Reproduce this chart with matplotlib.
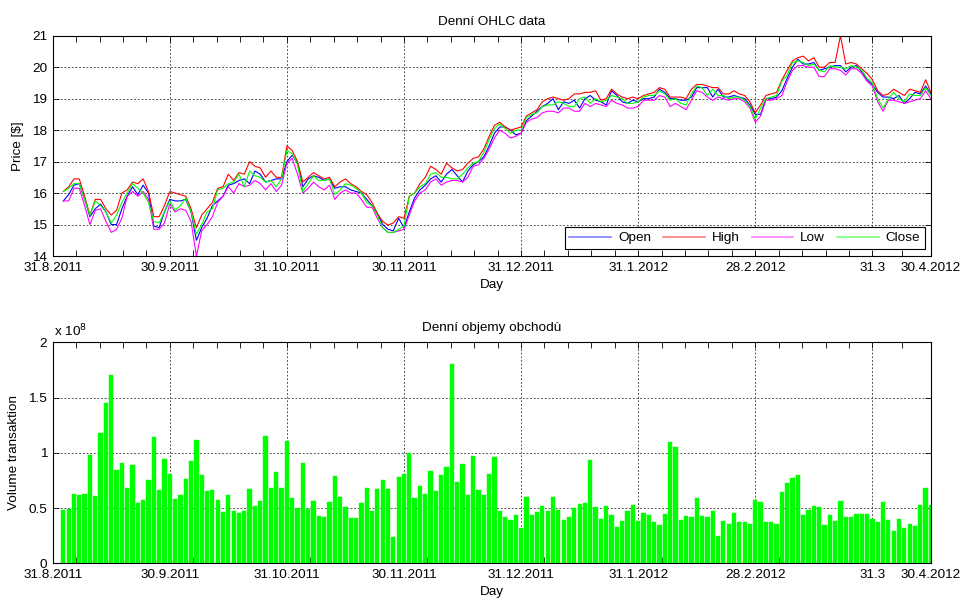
import numpy as np
import matplotlib
matplotlib.use("Agg")
import matplotlib.pyplot as plt

plt.rcParams['font.family'] = ['Liberation Sans', 'DejaVu Sans']

# trading day index of each sample (first row of the file is day 2)
days = np.arange(2, 166)

open_ = [15.75, 15.95, 16.25, 16.3, 15.8, 15.25, 15.5, 15.65, 15.4, 15.0,
         15.0, 15.5, 15.9, 16.2, 15.95, 16.25, 16.0, 14.95, 14.9, 15.4,
         15.8, 15.75, 15.75, 15.8, 15.4, 14.5, 14.9, 15.2, 15.6, 15.75,
         15.9, 16.25, 16.3, 16.4, 16.45, 16.3, 16.7, 16.6, 16.35, 16.4,
         16.45, 16.45, 17.0, 17.2, 16.95, 16.2, 16.45, 16.55, 16.5, 16.4,
         16.45, 16.15, 16.2, 16.2, 16.1, 16.05, 16.0, 15.8, 15.6, 15.35,
         15.0, 14.85, 14.8, 15.2, 14.9, 15.4, 15.85, 16.1, 16.25, 16.45,
         16.55, 16.35, 16.6, 16.75, 16.55, 16.35, 16.7, 16.9, 17.0, 17.15,
         17.5, 17.9, 18.1, 18.1, 18.0, 17.85, 17.9, 18.3, 18.45, 18.6,
         18.75, 18.85, 19.0, 18.65, 18.9, 18.85, 18.95, 18.7, 19.0, 19.1,
         18.95, 18.9, 18.8, 19.25, 19.1, 18.9, 18.85, 18.95, 18.9, 19.0,
         19.0, 19.05, 19.3, 19.2, 19.0, 19.0, 18.95, 18.95, 19.05, 19.35,
         19.35, 19.35, 19.05, 19.3, 19.05, 19.05, 19.1, 19.05, 19.0, 18.8,
         18.5, 18.5, 19.0, 19.0, 19.05, 19.25, 19.65, 20.0, 20.25, 20.1,
         20.1, 20.15, 19.9, 19.95, 20.0, 20.05, 20.05, 19.85, 20.0, 20.05,
         19.85, 19.6, 19.45, 19.2, 19.05, 19.05, 19.0, 19.1, 18.85, 19.0,
         19.2, 19.15, 19.4, 19.15]
high = [16.05, 16.2, 16.45, 16.45, 15.9, 15.3, 15.8, 15.8, 15.5, 15.3,
        15.45, 16.0, 16.1, 16.35, 16.3, 16.45, 16.05, 15.25, 15.25, 15.6,
        16.05, 16.0, 15.95, 15.9, 15.5, 14.9, 15.3, 15.5, 15.7, 16.15,
        16.2, 16.6, 16.4, 16.65, 16.6, 17.0, 16.85, 16.8, 16.5, 16.7,
        16.5, 16.5, 17.5, 17.35, 17.0, 16.35, 16.5, 16.65, 16.55, 16.45,
        16.5, 16.2, 16.35, 16.45, 16.3, 16.2, 16.05, 15.95, 15.7, 15.35,
        15.1, 14.98, 15.05, 15.25, 15.2, 15.9, 16.0, 16.3, 16.5, 16.85,
        16.75, 16.6, 16.95, 16.8, 16.7, 16.75, 16.95, 17.1, 17.15, 17.4,
        17.8, 18.15, 18.25, 18.1, 18.0, 18.05, 18.1, 18.45, 18.55, 18.65,
        18.9, 19.0, 19.05, 19.0, 18.95, 19.0, 19.15, 19.15, 19.2, 19.2,
        19.25, 18.95, 19.0, 19.3, 19.15, 19.05, 19.0, 19.05, 19.0, 19.1,
        19.15, 19.2, 19.35, 19.3, 19.05, 19.05, 19.05, 19.0, 19.3, 19.45,
        19.45, 19.4, 19.35, 19.35, 19.15, 19.15, 19.25, 19.15, 19.1, 18.9,
        18.55, 18.8, 19.1, 19.15, 19.2, 19.6, 19.9, 20.2, 20.3, 20.35,
        20.2, 20.3, 20.0, 20.0, 20.15, 20.15, 21.0, 20.1, 20.15, 20.1,
        19.95, 19.8, 19.6, 19.25, 19.1, 19.15, 19.3, 19.2, 19.1, 19.3,
        19.25, 19.2, 19.6, 19.2]
low = [15.75, 15.75, 16.15, 16.15, 15.6, 15.0, 15.45, 15.5, 15.1, 14.75,
       14.85, 15.2, 15.9, 16.05, 15.9, 16.05, 15.8, 14.85, 14.85, 15.05,
       15.65, 15.4, 15.5, 15.45, 15.1, 14.0, 14.8, 15.0, 15.25, 15.7,
       15.9, 16.2, 16.0, 16.3, 16.2, 16.25, 16.4, 16.3, 16.1, 16.3,
       16.05, 16.25, 16.95, 17.1, 16.6, 16.0, 16.15, 16.35, 16.2, 16.1,
       16.25, 15.8, 16.0, 16.1, 16.0, 16.0, 15.8, 15.55, 15.55, 15.2,
       14.9, 14.75, 14.75, 14.8, 14.85, 15.3, 15.75, 16.0, 16.1, 16.35,
       16.45, 16.25, 16.35, 16.4, 16.4, 16.35, 16.5, 16.85, 16.9, 17.1,
       17.4, 17.75, 18.0, 17.9, 17.75, 17.8, 17.9, 18.25, 18.35, 18.4,
       18.55, 18.6, 18.6, 18.55, 18.7, 18.7, 18.6, 18.6, 18.85, 18.75,
       18.85, 18.8, 18.75, 18.95, 18.85, 18.8, 18.7, 18.7, 18.75, 18.95,
       18.95, 18.95, 19.1, 19.05, 18.75, 18.85, 18.75, 18.65, 18.95, 19.25,
       19.2, 19.05, 18.95, 19.05, 19.0, 18.95, 19.0, 19.0, 18.9, 18.7,
       18.25, 18.45, 18.95, 18.95, 19.0, 19.1, 19.55, 19.9, 20.05, 20.05,
       20.0, 20.0, 19.7, 19.7, 19.95, 19.95, 19.9, 19.75, 19.95, 19.95,
       19.8, 19.55, 19.4, 18.9, 18.6, 18.95, 18.95, 18.9, 18.85, 18.9,
       18.95, 19.0, 19.25, 19.0]
close = [16.05, 16.15, 16.3, 16.3, 15.8, 15.3, 15.75, 15.6, 15.4, 15.05,
         15.3, 15.7, 16.0, 16.3, 16.15, 16.0, 15.7, 15.1, 15.05, 15.4,
         15.75, 15.45, 15.6, 15.85, 15.4, 14.7, 15.0, 15.4, 15.5, 16.1,
         16.15, 16.3, 16.35, 16.6, 16.2, 16.7, 16.55, 16.5, 16.35, 16.4,
         16.2, 16.45, 17.35, 17.25, 16.9, 16.05, 16.3, 16.55, 16.4, 16.4,
         16.45, 15.95, 16.1, 16.3, 16.25, 16.15, 16.0, 15.7, 15.6, 15.3,
         14.9, 14.75, 14.75, 14.85, 14.95, 15.9, 16.0, 16.2, 16.3, 16.6,
         16.65, 16.5, 16.5, 16.45, 16.45, 16.6, 16.8, 16.95, 17.0, 17.3,
         17.7, 18.05, 18.2, 18.05, 17.9, 18.0, 18.0, 18.4, 18.5, 18.55,
         18.75, 18.8, 18.8, 18.9, 18.85, 18.75, 18.75, 19.0, 19.05, 18.85,
         19.0, 18.9, 18.95, 19.1, 19.05, 19.0, 18.85, 18.85, 18.9, 19.05,
         19.1, 19.1, 19.25, 19.15, 18.95, 19.0, 18.85, 18.8, 19.15, 19.4,
         19.35, 19.1, 19.3, 19.1, 19.1, 19.0, 19.05, 19.05, 18.95, 18.75,
         18.35, 18.7, 19.0, 19.05, 19.1, 19.55, 19.75, 20.15, 20.2, 20.15,
         20.05, 20.1, 19.9, 19.85, 20.05, 20.0, 20.0, 19.95, 20.05, 20.0,
         19.9, 19.65, 19.5, 19.0, 18.7, 19.0, 19.2, 19.0, 18.9, 19.15,
         19.1, 19.1, 19.35, 19.1]

# volume in units of 1e8
volume = [0.48, 0.49, 0.63, 0.615, 0.625, 0.98, 0.61, 1.18, 1.45, 1.70,
          0.84, 0.91, 0.68, 0.89, 0.55, 0.57, 0.75, 1.14, 0.665, 0.94,
          0.81, 0.58, 0.615, 0.76, 0.93, 1.12, 0.80, 0.65, 0.66, 0.57,
          0.46, 0.62, 0.47, 0.455, 0.47, 0.67, 0.52, 0.56, 1.15, 0.68,
          0.83, 0.68, 1.11, 0.59, 0.50, 0.91, 0.49, 0.56, 0.43, 0.415,
          0.555, 0.79, 0.60, 0.51, 0.41, 0.41, 0.545, 0.685, 0.475, 0.675,
          0.755, 0.675, 0.24, 0.785, 0.81, 1.0, 0.59, 0.695, 0.63, 0.835,
          0.655, 0.80, 0.87, 1.80, 0.74, 0.90, 0.62, 0.97, 0.665, 0.62,
          0.81, 0.96, 0.475, 0.42, 0.395, 0.435, 0.315, 0.60, 0.435, 0.46,
          0.52, 0.475, 0.60, 0.485, 0.39, 0.42, 0.50, 0.54, 0.55, 0.935,
          0.51, 0.405, 0.52, 0.435, 0.33, 0.385, 0.475, 0.53, 0.385, 0.455,
          0.44, 0.37, 0.35, 0.45, 1.10, 1.05, 0.395, 0.425, 0.415, 0.59,
          0.425, 0.415, 0.47, 0.245, 0.385, 0.36, 0.455, 0.375, 0.37, 0.355,
          0.57, 0.555, 0.37, 0.375, 0.36, 0.645, 0.725, 0.77, 0.80, 0.435,
          0.485, 0.52, 0.51, 0.345, 0.435, 0.385, 0.56, 0.415, 0.415, 0.445,
          0.445, 0.445, 0.405, 0.37, 0.555, 0.39, 0.29, 0.405, 0.315, 0.355,
          0.34, 0.53, 0.685, 0.53]

tick_days = [0, 22, 44, 66, 88, 110, 132, 154, 165]
tick_labels = ['31.8.2011', '30.9.2011', '31.10.2011', '30.11.2011',
               '31.12.2011', '31.1.2012', '28.2.2012', '31.3', '30.4.2012']

FS = 9.7
grid_kw = dict(color='#333333', linestyle=(0, (2.2, 2.2)), linewidth=0.6)

minor_ticks = []
for a, b in zip(tick_days[:-1], tick_days[1:]):
    n = int(round((b - a) / 4.4)) + 1
    minor_ticks.extend(np.linspace(a, b, n)[1:-1])


def style_axis(ax):
    ax.set_xlim(0, 165)
    ax.set_xticks(tick_days)
    ax.set_xticklabels(tick_labels, fontsize=FS)
    ax.set_xticks(minor_ticks, minor=True)
    ax.tick_params(which='both', direction='in', top=True, right=True,
                   labelsize=FS, width=0.6, pad=4)
    ax.tick_params(which='major', length=4)
    ax.tick_params(which='minor', length=4)
    for s in ax.spines.values():
        s.set_linewidth(0.8)
    for x in tick_days[1:-1]:
        ax.axvline(x, zorder=0.5, **grid_kw)
    ax.set_xlabel('Day', fontsize=FS, labelpad=4)


fig = plt.figure(figsize=(9.63, 5.99), dpi=100)
ax1 = fig.add_axes([0.0547, 0.5726, 0.912, 0.3678])
ax2 = fig.add_axes([0.0547, 0.0596, 0.912, 0.369])

# top: OHLC lines
ax1.plot(days, open_, color='#0000FF', lw=0.8, label='Open')
ax1.plot(days, high, color='#FF0000', lw=0.8, label='High')
ax1.plot(days, low, color='#FF00FF', lw=0.8, label='Low')
ax1.plot(days, close, color='#00FF00', lw=0.8, label='Close')
ax1.set_ylim(14, 21)
ax1.set_yticks(range(14, 22))
for y in range(15, 21):
    ax1.axhline(y, zorder=0.5, **grid_kw)
style_axis(ax1)
ax1.set_ylabel('Price [$]', fontsize=FS, labelpad=6)
ax1.set_title('Denní OHLC data', fontsize=FS, pad=8)
leg = ax1.legend(loc='lower right', bbox_to_anchor=(0.993, 0.032),
                 borderaxespad=0, ncol=4, fontsize=FS, fancybox=False,
                 framealpha=1, edgecolor='black', handlelength=3.1,
                 handletextpad=0.5, columnspacing=0.9, borderpad=0.35)
leg.get_frame().set_linewidth(0.8)
for h in leg.get_lines():
    h.set_alpha(0.5)
    h.set_linewidth(1.2)

# bottom: volume bars
ax2.bar(days, volume, width=0.8, color='#00FF00', edgecolor='#00FF00',
        linewidth=0.3, zorder=2)
ax2.set_ylim(0, 2)
ax2.set_yticks([0, 0.5, 1, 1.5, 2])
ax2.set_yticklabels(['0', '0.5', '1', '1.5', '2'])
for y in [0.5, 1, 1.5]:
    ax2.axhline(y, zorder=0.5, **grid_kw)
style_axis(ax2)
ax2.set_ylabel('Volume transaktion', fontsize=FS, labelpad=6)
ax2.set_title('Denní objemy obchodù', fontsize=FS, pad=8)
ax2.text(0.002, 1.012, r'x 10$^{8}$', transform=ax2.transAxes,
         fontsize=FS, ha='left', va='bottom')

fig.savefig('out.png', dpi=100, facecolor='white')
